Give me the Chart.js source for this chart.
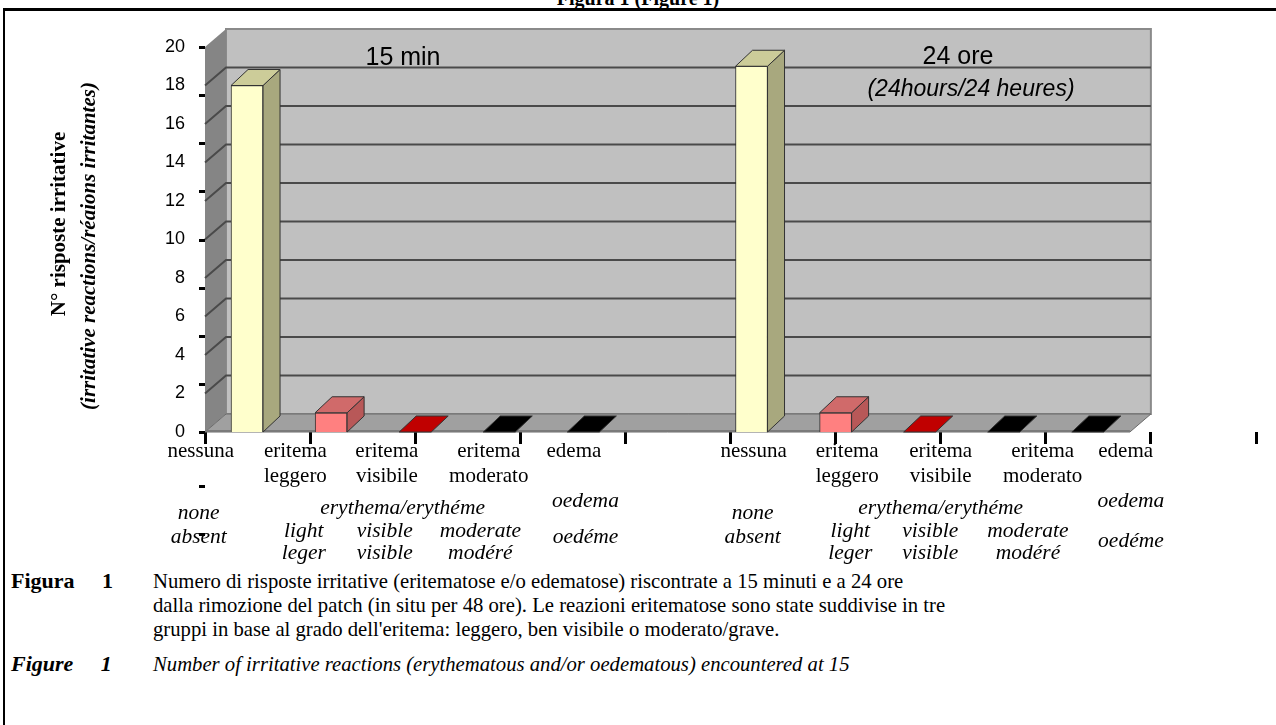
<!DOCTYPE html>
<html>
<head>
<meta charset="utf-8">
<script src="https://cdn.jsdelivr.net/npm/chart.js@4"></script>
<style>
  body { margin: 0; background: #fff; width: 1276px; height: 725px; overflow: hidden; position: relative; font-family: "Liberation Serif", "Times New Roman", serif; }
  #wrap { position: absolute; left: 0; top: 0; width: 1276px; height: 565px; }
  .title { position: absolute; left: 0; width: 1276px; top: -13px; text-align: center; font-weight: bold; font-size: 20px; }
  .hline { position: absolute; left: 3px; right: 0; top: 8px; height: 3px; background: #000; }
  .vline { position: absolute; left: 3px; top: 8px; width: 2px; bottom: 0; background: #000; }
  .cap { position: absolute; font-size: 20.7px; line-height: 24px; white-space: nowrap; }
  .lab { position: absolute; left: 11px; font-size: 22px; font-weight: bold; line-height: 24px; word-spacing: 22px; }
</style>
</head>
<body>
<div class="title">Figura 1 (Figure 1)</div>
<div class="hline"></div>
<div class="vline"></div>
<div id="wrap"><canvas id="c"></canvas></div>

<div class="lab" style="top:569px">Figura 1</div>
<div class="cap" style="left:153px; top:569px">Numero di risposte irritative (eritematose e/o edematose) riscontrate a 15 minuti e a 24 ore<br>dalla rimozione del patch (in situ per 48 ore). Le reazioni eritematose sono state suddivise in tre<br>gruppi in base al grado dell'eritema: leggero, ben visibile o moderato/grave.</div>
<div class="lab" style="top:652px; font-style:italic">Figure 1</div>
<div class="cap" style="left:153px; top:652px; font-style:italic">Number of irritative reactions (erythematous and/or oedematous) encountered at 15</div>

<script>
// data
var groups = ['15 min', '24 ore'];
var groupNote = ['', '(24hours/24 heures)'];
var categories = ['nessuna', 'eritema leggero', 'eritema visibile', 'eritema moderato', 'edema'];
var values15 = [18, 1, 0, 0, 0];
var values24 = [19, 1, 0, 0, 0];
var catColors = ['#FFFFCC', '#FF8080', '#C00000', '#000000', '#000000'];
var sideColors = ['#A8A87E', '#B85858', '#900000', '#000000', '#000000'];
var topColors = ['#CCCC99', '#D06A6A', '#C00000', '#000000', '#000000'];
var labelsIt = [['nessuna'], ['eritema', 'leggero'], ['eritema', 'visibile'], ['eritema', 'moderato'], ['edema']];
var labelsEn = [['none', 'absent'], ['light', 'leger'], ['visible', 'visible'], ['moderate', 'modéré'], ['oedema', 'oedéme']];
var enHeader = 'erythema/erythéme';
var yTitle = ['N° risposte irritative', '(irritative reactions/réaions irritantes)'];
var yMin = 0, yMax = 20, yStep = 2;

var points = [], colors = [];
values15.forEach((v, i) => { points.push({ x: i, y: v }); colors.push(catColors[i]); });
values24.forEach((v, i) => { points.push({ x: i + 6, y: v }); colors.push(catColors[i]); });

var DX = 21, DY = 18;   // wall depth
var BX = 17, BY = 16;   // bar depth

var box3d = {
  id: 'box3d',
  beforeDatasetsDraw(chart) {
    const ctx = chart.ctx, x = chart.scales.x, y = chart.scales.y;
    const L = x.getPixelForValue(-0.5), R = x.getPixelForValue(10.5);
    const T = y.getPixelForValue(yMax), B = y.getPixelForValue(yMin);
    ctx.save();
    // back wall
    ctx.fillStyle = '#C0C0C0';
    ctx.fillRect(L + DX, T - DY, R - L, B - T);
    ctx.strokeStyle = '#8a8a8a';
    ctx.lineWidth = 2;
    ctx.strokeRect(L + DX, T - DY, R - L, B - T);
    // side wall
    ctx.fillStyle = '#858585';
    ctx.beginPath();
    ctx.moveTo(L, T); ctx.lineTo(L + DX, T - DY); ctx.lineTo(L + DX, B - DY); ctx.lineTo(L, B);
    ctx.closePath(); ctx.fill();
    // grid
    ctx.strokeStyle = '#4a4a4a';
    ctx.lineWidth = 2;
    for (let v = yMin + yStep; v < yMax; v += yStep) {
      const py = y.getPixelForValue(v);
      ctx.beginPath();
      ctx.moveTo(L, py); ctx.lineTo(L + DX, py - DY); ctx.lineTo(R + DX, py - DY);
      ctx.stroke();
    }
    // floor
    ctx.fillStyle = '#A0A0A0';
    ctx.beginPath();
    ctx.moveTo(L, B); ctx.lineTo(L + DX, B - DY); ctx.lineTo(R + DX, B - DY); ctx.lineTo(R, B);
    ctx.closePath(); ctx.fill();
    ctx.strokeStyle = '#6a6a6a';
    ctx.lineWidth = 1;
    ctx.stroke();
    ctx.fillStyle = '#7a7a7a';
    ctx.fillRect(L, B - 2, R - L, 2);
    ctx.restore();
  },
  afterDatasetsDraw(chart) {
    const ctx = chart.ctx;
    const meta = chart.getDatasetMeta(0);
    ctx.save();
    ctx.strokeStyle = '#333';
    ctx.lineWidth = 1;
    meta.data.forEach((bar, i) => {
      const p = bar.getProps(['x', 'y', 'base', 'width'], true);
      const k = i % categories.length;
      const x0 = p.x - p.width / 2, x1 = p.x + p.width / 2;
      if (p.base - p.y > 0.5) {
        ctx.fillStyle = sideColors[k];
        ctx.beginPath();
        ctx.moveTo(x1, p.y); ctx.lineTo(x1 + BX, p.y - BY); ctx.lineTo(x1 + BX, p.base - BY); ctx.lineTo(x1, p.base);
        ctx.closePath(); ctx.fill(); ctx.stroke();
      }
      ctx.fillStyle = topColors[k];
      ctx.beginPath();
      ctx.moveTo(x0, p.y); ctx.lineTo(x0 + BX, p.y - BY); ctx.lineTo(x1 + BX, p.y - BY); ctx.lineTo(x1, p.y);
      ctx.closePath(); ctx.fill(); ctx.stroke();
    });
    ctx.restore();
  },
  afterDraw(chart) {
    const ctx = chart.ctx, y = chart.scales.y, xt = chart.scales.xt;
    const area = chart.chartArea;
    ctx.save();
    // y tick dashes
    ctx.fillStyle = '#000';
    for (let v = yMin; v <= yMax; v += 2.5) {
      ctx.fillRect(area.left - 6, Math.round(y.getPixelForValue(v)) - 1, 6, 3);
    }
    ctx.fillRect(area.left - 6, Math.round(y.getPixelForValue(-2.8)) - 1, 6, 3);
    ctx.fillRect(area.left - 6, Math.round(y.getPixelForValue(-5.3)) - 1, 6, 3);

    // panel captions
    ctx.fillStyle = '#000';
    ctx.textAlign = 'center';
    ctx.textBaseline = 'middle';
    ctx.font = '25px "Liberation Sans", Arial, sans-serif';
    ctx.fillText(groups[0], area.left + 198, area.top + 11);
    ctx.fillText(groups[1], area.left + 753, area.top + 10);
    ctx.font = 'italic 23px "Liberation Sans", Arial, sans-serif';
    ctx.fillText(groupNote[1], area.left + 766, area.top + 43);

    // y title
    ctx.save();
    ctx.translate(60, 224);
    ctx.rotate(-Math.PI / 2);
    ctx.font = 'bold 21px "Liberation Serif", serif';
    ctx.fillText(yTitle[0], 0, 0);
    ctx.restore();
    ctx.save();
    ctx.translate(90, 246);
    ctx.rotate(-Math.PI / 2);
    ctx.font = 'bold italic 21px "Liberation Serif", serif';
    ctx.fillText(yTitle[1], 0, 0);
    ctx.restore();

    // category labels under the axis
    const itPos = [[-0.04, 0.86, 1.73, 2.7, 3.51], [5.22, 6.11, 7.0, 7.97, 8.76]];
    const enPos = [[-0.06, 0.94, 1.71, 2.62, 3.62], [5.21, 6.14, 6.9, 7.83, 8.81]];
    const hdPos = [1.88, 7.0];
    ctx.font = '21px "Liberation Serif", serif';
    for (let g = 0; g < 2; g++) {
      labelsIt.forEach((lines, k) => {
        const px = xt.getPixelForValue(itPos[g][k]);
        lines.forEach((t, r) => ctx.fillText(t, px, 451 + r * 25));
      });
    }
    ctx.font = 'italic 21.5px "Liberation Serif", serif';
    for (let g = 0; g < 2; g++) {
      ctx.fillText(enHeader, xt.getPixelForValue(hdPos[g]), 508);
      labelsEn.forEach((lines, k) => {
        const px = xt.getPixelForValue(enPos[g][k]);
        let rows;
        if (k === 0) rows = [513, 537];
        else if (k === 4) rows = [501, 537 + g * 4];
        else rows = [531, 553];
        lines.forEach((t, r) => ctx.fillText(t, px, rows[r]));
      });
    }
    ctx.restore();
  }
};

new Chart(document.getElementById('c'), {
  type: 'bar',
  data: {
    datasets: [{
      data: points,
      backgroundColor: colors,
      borderColor: '#333',
      borderWidth: 1,
      barThickness: 32
    }]
  },
  options: {
    responsive: true,
    maintainAspectRatio: false,
    animation: false,
    layout: { padding: { top: 47, right: 20, left: 0, bottom: 0 } },
    plugins: { legend: { display: false }, tooltip: { enabled: false }, title: { display: false } },
    scales: {
      x: { type: 'linear', display: false, offset: false, min: -0.5, max: 12, grid: { offset: false } },
      xt: {
        type: 'linear', position: 'bottom', min: 0, max: 10, offset: false,
        ticks: { display: false, stepSize: 1 },
        border: { display: false },
        grid: { offset: false, drawOnChartArea: false, drawTicks: true, tickLength: 12, color: '#000', lineWidth: 3 },
        afterFit(s) { s.height = 133; }
      },
      y: {
        min: yMin, max: yMax,
        ticks: { stepSize: yStep, padding: 20, color: '#000', font: { family: '"Liberation Sans", Arial, sans-serif', size: 18 } },
        border: { display: false },
        grid: { display: false, drawTicks: false },
        afterFit(s) { s.width = 205; }
      }
    }
  },
  plugins: [box3d]
});
</script>
</body>
</html>
